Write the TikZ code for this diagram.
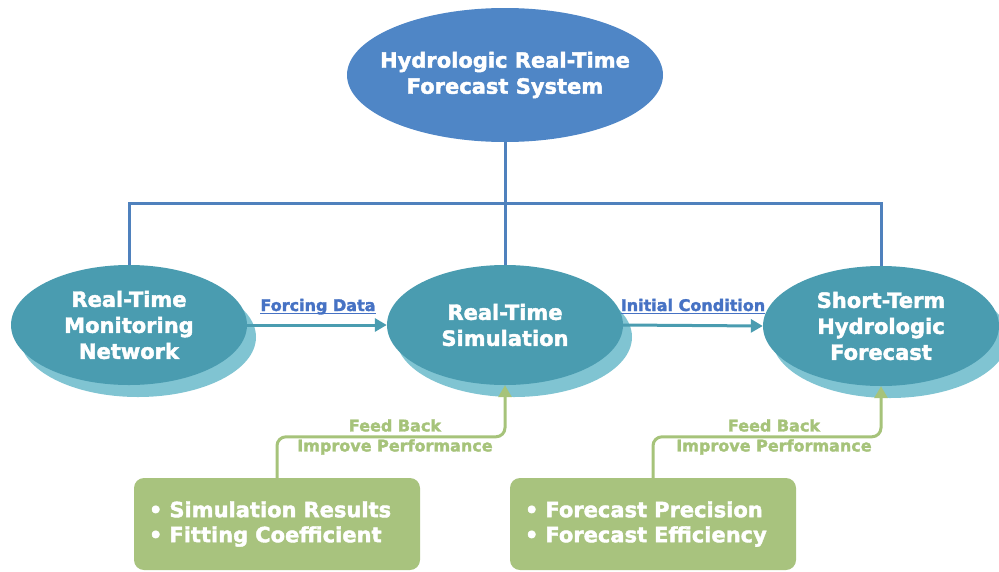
\documentclass[tikz,border=0pt]{standalone}
\usepackage{fontspec}
\setmainfont{DejaVu Sans}[BoldFeatures={FakeBold=2}]
\usetikzlibrary{arrows.meta,shapes.geometric}
\definecolor{topblue}{RGB}{79,134,198}
\definecolor{tealfill}{RGB}{74,156,176}
\definecolor{tealshadow}{RGB}{128,196,210}
\definecolor{linkblue}{RGB}{79,129,189}
\definecolor{labelblue}{RGB}{70,114,196}
\definecolor{greenbox}{RGB}{168,195,126}
\definecolor{greentext}{RGB}{166,195,122}
\begin{document}
\begin{tikzpicture}[x=1pt,y=-1pt,
  ell/.style={ellipse, inner sep=0pt, align=center, text=white,
    font=\fontsize{21}{26}\selectfont\bfseries},
  topell/.style={ell, fill=topblue, inner xsep=-40pt, minimum width=316pt, minimum height=134pt},
  procell/.style={ell, fill=tealfill, minimum width=236pt, minimum height=120pt},
  shadowell/.style={ellipse, inner sep=0pt, fill=tealshadow, minimum width=236pt, minimum height=120pt},
  bus/.style={draw=linkblue, line width=3pt},
  flow/.style={draw=tealfill, line width=3pt, -{Triangle[length=12pt,width=13pt]}},
  fb/.style={draw=greentext, line width=3pt, rounded corners=9pt, -{Triangle[length=12pt,width=13pt]}},
  flowlabel/.style={text=labelblue, font=\fontsize{16}{19}\selectfont\bfseries, inner sep=0pt, anchor=base},
  fblabel/.style={text=greentext, font=\fontsize{16}{20}\selectfont\bfseries, inner sep=0pt, align=center},
  metric/.style={rectangle, rounded corners=10pt, fill=greenbox, text=white, text width=256pt,
    inner xsep=15pt, inner ysep=0pt, minimum height=92pt, align=left,
    font=\fontsize{21}{25}\selectfont\bfseries}
]
\useasboundingbox (0,0) rectangle (999,571);
\clip (0,0) rectangle (999,571);

% shadows
\node[shadowell] (lsh) at (138,337) {};
\node[shadowell] (msh) at (514,337) {};
\node[shadowell] (rsh) at (890,338) {};

% main nodes
\node[topell] (top) at (505,75) {Hydrologic Real-Time\\Forecast System};
\node[procell] (left) at (129,325) {Real-Time\\Monitoring\\Network};
\node[procell] (mid) at (505,325) {Real-Time\\Simulation};
\node[procell] (right) at (881,326) {Short-Term\\Hydrologic\\Forecast};

% bus lines
\coordinate (busc) at (505,203);
\draw[bus] (top.south) -- (mid.north);
\draw[bus] (left.north) |- (busc) -| (right.north);

% flow arrows
\draw[flow] (left.east) -- (mid.west);
\draw[flow] (mid.east) -- (right.west);
\node[flowlabel] (fd) at (318,311) {Forcing Data};
\draw[labelblue, line width=1.2pt] ([yshift=-2.5pt]fd.base west) -- ([yshift=-2.5pt]fd.base east);
\node[flowlabel] (ic) at (693,311) {Initial Condition};
\draw[labelblue, line width=1.2pt] ([yshift=-2.5pt]ic.base west) -- ([yshift=-2.5pt]ic.base east);

% metric boxes
\node[metric] (box1) at (277,524) {•~Simulation Results\\•~Fitting Coefficient};
\node[metric] (box2) at (653,524) {•~Forecast Precision\\•~Forecast Efficiency};

% feedback arrows
\draw[fb] (box1.north) -- ++(0,-41) -| (mid.south);
\draw[fb] (box2.north) -- ++(0,-41) -| (right.south);
\node[fblabel] (fb1) at (395,437) {Feed Back\\Improve Performance};
\node[fblabel] (fb2) at (774,437) {Feed Back\\Improve Performance};
\end{tikzpicture}
\end{document}
